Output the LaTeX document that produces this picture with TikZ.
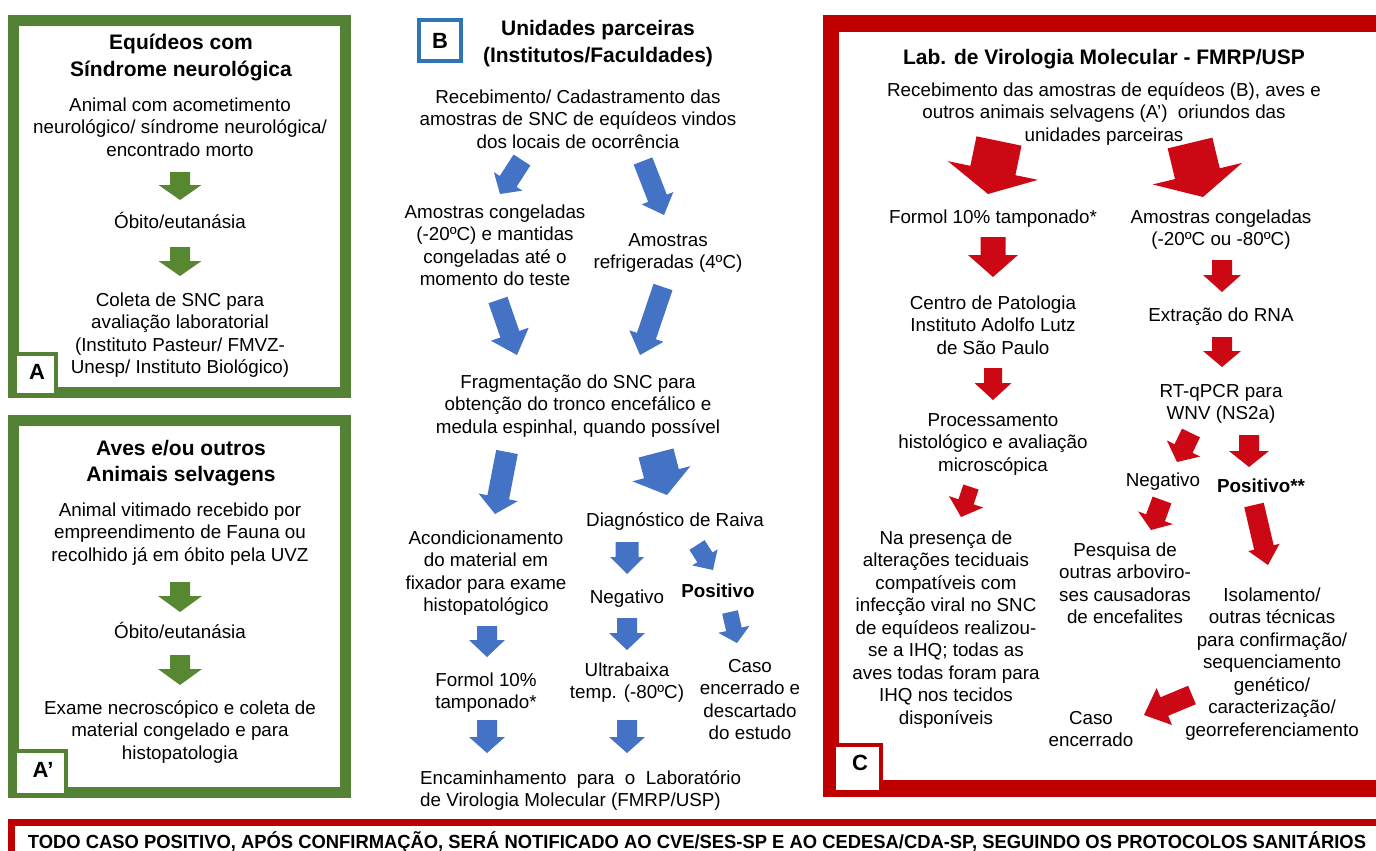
\documentclass[tikz,border=0pt]{standalone}
\usepackage{fontspec}
\setmainfont{Liberation Sans}
\usetikzlibrary{calc}
\definecolor{gfr}{RGB}{84,130,53}
\definecolor{garr}{RGB}{88,135,50}
\definecolor{barr}{RGB}{68,114,196}
\definecolor{bbox}{RGB}{46,117,182}
\definecolor{rfr}{RGB}{192,0,0}
\definecolor{rarr}{RGB}{204,8,20}
\newcommand{\barrow}[6]{%
  \path ($(#3)!#6pt!(#2)$) coordinate (bh);
  \fill[#1] ($(#2)!#4pt!90:(#3)$) -- ($(bh)!#4pt!-90:(#2)$) -- ($(bh)!#5pt!-90:(#2)$) -- (#3)
     -- ($(bh)!#5pt!90:(#2)$) -- ($(bh)!#4pt!90:(#2)$) -- ($(#2)!#4pt!-90:(#3)$) -- cycle;
}
\tikzset{
  txt/.style={font=\fontsize{18.8}{22.5}\selectfont, align=center, inner sep=0pt, anchor=base},
  ttl/.style={font=\fontsize{21}{26.5}\selectfont\bfseries, align=center, inner sep=0pt, anchor=base},
  bld/.style={font=\fontsize{18.8}{22.5}\selectfont\bfseries, align=center, inner sep=0pt, anchor=base},
  lab/.style={font=\fontsize{22}{26}\selectfont\bfseries, inner sep=0pt, anchor=center},
}
\begin{document}
\begin{tikzpicture}[x=1pt,y=-1pt]
\clip (0,0) rectangle (1376,851);
\fill[white] (0,0) rectangle (1376,851);
% ---------- frames ----------
\draw[gfr, line width=11pt] (13.5,20.5) rectangle (345.5,392.5);
\draw[gfr, line width=4pt, fill=white] (15,354) rectangle (56,395);
\node[lab] (labA) at (37,372) {A};
\draw[gfr, line width=11pt] (13.5,420.5) rectangle (345.5,792);
\draw[gfr, line width=4pt, fill=white] (15,751) rectangle (66,795);
\node[lab] (labAp) at (43,770) {A’};
\draw[bbox, line width=4pt] (419,20) rectangle (461,61);
\node[lab] (labB) at (440,41) {B};
\draw[rfr, line width=16.5pt] (831,23.5) rectangle (1385,788.5);
\draw[rfr, line width=4pt, fill=white] (834,745) rectangle (881,792);
\node[lab] (labC) at (860,763) {C};
\draw[rfr, line width=7pt] (11,822) rectangle (1400,900);
% ---------- A ----------
\node[ttl] (tA0) at (181,76.5) {Equídeos com\\Síndrome neurológica};
\node[txt] (tA1) at (180,156) {Animal com acometimento\\neurológico/ síndrome neurológica/\\encontrado morto};
\node[txt] (tA2) at (180,228) {Óbito/eutanásia};
\node[txt] (tA3) at (180,373.5) {Coleta de SNC para\\avaliação laboratorial\\(Instituto Pasteur/ FMVZ-\\Unesp/ Instituto Biológico)};
\coordinate (ga1s) at (180,172); \coordinate (ga1e) at (180,200);
\coordinate (ga2s) at (180,247); \coordinate (ga2e) at (180,276);
\barrow{garr}{ga1s}{ga1e}{10}{21.5}{15}
\barrow{garr}{ga2s}{ga2e}{10}{21.5}{15}
% ---------- A' ----------
\node[ttl] (tB0) at (181,481.5) {Aves e/ou outros\\Animais selvagens};
\node[txt] (tB1) at (180,561) {Animal vitimado recebido por\\empreendimento de Fauna ou\\recolhido já em óbito pela UVZ};
\node[txt] (tB2) at (180,638) {Óbito/eutanásia};
\node[txt] (tB3) at (180,759) {Exame necroscópico e coleta de\\material congelado e para\\histopatologia};
\coordinate (ga3s) at (180,582); \coordinate (ga3e) at (180,612);
\coordinate (ga4s) at (180,655); \coordinate (ga4e) at (180,685);
\barrow{garr}{ga3s}{ga3e}{10}{22}{16}
\barrow{garr}{ga4s}{ga4e}{10}{22}{16}
% ---------- B ----------
\node[ttl] (tC0) at (598,62.5) {Unidades parceiras\\(Institutos/Faculdades)};
\node[txt] (tC1) at (578,148) {Recebimento/ Cadastramento das\\amostras de SNC de equídeos vindos\\dos locais de ocorrência};
\node[txt] (tC2) at (495,285.5) {Amostras congeladas\\(-20ºC) e mantidas\\congeladas até o\\momento do teste};
\node[txt] (tC3) at (668,268.5) {Amostras\\refrigeradas (4ºC)};
\node[txt] (tC4) at (578,433) {Fragmentação do SNC para\\obtenção do tronco encefálico e\\medula espinhal, quando possível};
\node[txt] (tC5) at (675,526) {Diagnóstico de Raiva};
\node[txt] (tC6) at (486,611.5) {Acondicionamento\\do material em\\fixador para exame\\histopatológico};
\node[txt] (tC7) at (627,603) {Negativo};
\node[bld] (tC8) at (718,597) {Positivo};
\node[txt] (tC9) at (486,708.5) {Formol 10\%\\tamponado*};
\node[txt] (tC10) at (627,698.5) {Ultrabaixa\\temp. (-80ºC)};
\node[txt] (tC11) at (750,739.5) {Caso\\encerrado e\\descartado\\do estudo};
\node[txt, anchor=base west, align=left] (tC12) at (420,806.5) {Encaminhamento\ \ para\ \ o\ \ Laboratório\\de Virologia Molecular (FMRP/USP)};
\coordinate (b1s) at (522,160); \coordinate (b1e) at (500,194);
\coordinate (b2s) at (643,161); \coordinate (b2e) at (664,215);
\coordinate (b3s) at (498,300); \coordinate (b3e) at (517,355);
\coordinate (b4s) at (663,287); \coordinate (b4e) at (640,355);
\coordinate (b5s) at (507,452); \coordinate (b5e) at (495,514);
\coordinate (b6s) at (656,453); \coordinate (b6e) at (667,495);
\coordinate (b7s) at (627,542); \coordinate (b7e) at (627,574);
\coordinate (b8s) at (697,545); \coordinate (b8e) at (713,570);
\coordinate (b9s) at (487,626); \coordinate (b9e) at (487,657);
\coordinate (b10s) at (627,618); \coordinate (b10e) at (627,650);
\coordinate (b11s) at (730,612); \coordinate (b11e) at (737,643);
\coordinate (b12s) at (487,720); \coordinate (b12e) at (487,753);
\coordinate (b13s) at (627,720); \coordinate (b13e) at (627,753);
\barrow{barr}{b1s}{b1e}{10}{17}{15}
\barrow{barr}{b2s}{b2e}{10}{17}{18}
\barrow{barr}{b3s}{b3e}{10}{20}{22}
\barrow{barr}{b4s}{b4e}{10}{18}{20}
\barrow{barr}{b5s}{b5e}{11}{20}{17}
\barrow{barr}{b6s}{b6e}{18}{30}{22}
\barrow{barr}{b7s}{b7e}{11.5}{17}{17}
\barrow{barr}{b8s}{b8e}{9}{15}{15}
\barrow{barr}{b9s}{b9e}{10}{18}{17}
\barrow{barr}{b10s}{b10e}{10}{18}{17}
\barrow{barr}{b11s}{b11e}{8}{16}{14}
\barrow{barr}{b12s}{b12e}{10}{18}{16}
\barrow{barr}{b13s}{b13e}{10}{18}{16}
% ---------- C ----------
\node[ttl] (tD0) at (1104,64) {Lab. de Virologia Molecular - FMRP/USP};
\node[txt] (tD1) at (1104,141) {Recebimento das amostras de equídeos (B), aves e\\outros animais selvagens (A’)\ \ oriundos das\\unidades parceiras};
\node[txt] (tD2) at (993,223) {Formol 10\% tamponado*};
\node[txt] (tD3) at (1221,245.5) {Amostras congeladas\\(-20ºC ou -80ºC)};
\node[txt] (tD4) at (993,354) {Centro de Patologia\\Instituto Adolfo Lutz\\de São Paulo};
\node[txt] (tD5) at (1221,321) {Extração do RNA};
\node[txt] (tD6) at (1221,419.5) {RT-qPCR para\\WNV (NS2a)};
\node[txt] (tD7) at (993,471) {Processamento\\histológico e avaliação\\microscópica};
\node[txt] (tD8) at (1163,486) {Negativo};
\node[bld] (tD9) at (1261,492) {Positivo**};
\node[txt] (tD10) at (946,724) {Na presença de\\alterações teciduais\\compatíveis com\\infecção viral no SNC\\de equídeos realizou-\\se a IHQ; todas as\\aves todas foram para\\IHQ nos tecidos\\disponíveis};
\node[txt] (tD11) at (1125,623.5) {Pesquisa de\\outras arboviro-\\ses causadoras\\de encefalites};
\node[txt] (tD12) at (1272,736) {Isolamento/\\outras técnicas\\para confirmação/\\sequenciamento\\genético/\\caracterização/\\georreferenciamento};
\node[txt] (tD13) at (1091,746.5) {Caso\\encerrado};
\coordinate (c1s) at (999,141); \coordinate (c1e) at (988,194);
\coordinate (c2s) at (1190,143); \coordinate (c2e) at (1203,197);
\coordinate (c3s) at (993,237); \coordinate (c3e) at (993,277);
\coordinate (c4s) at (1222,260); \coordinate (c4e) at (1222,292);
\coordinate (c5s) at (1222,337); \coordinate (c5e) at (1222,367);
\coordinate (c6s) at (993,368); \coordinate (c6e) at (993,400);
\coordinate (c7s) at (1191,433); \coordinate (c7e) at (1177,462);
\coordinate (c8s) at (1249,435); \coordinate (c8e) at (1249,467);
\coordinate (c9s) at (971,487); \coordinate (c9e) at (961,517);
\coordinate (c10s) at (1162,500); \coordinate (c10e) at (1151,530);
\coordinate (c11s) at (1254,505); \coordinate (c11e) at (1268,565);
\coordinate (c12s) at (1192,695); \coordinate (c12e) at (1144,715);
\barrow{rarr}{c1s}{c1e}{23}{46}{24}
\barrow{rarr}{c2s}{c2e}{23}{46}{24}
\barrow{rarr}{c3s}{c3e}{12.5}{25}{22}
\barrow{rarr}{c4s}{c4e}{10}{19}{17}
\barrow{rarr}{c5s}{c5e}{10}{19}{16}
\barrow{rarr}{c6s}{c6e}{9}{18.5}{17}
\barrow{rarr}{c7s}{c7e}{10}{18.5}{15}
\barrow{rarr}{c8s}{c8e}{10}{20}{16}
\barrow{rarr}{c9s}{c9e}{8}{18}{16}
\barrow{rarr}{c10s}{c10e}{10}{18.5}{13}
\barrow{rarr}{c11s}{c11e}{10}{16}{18}
\barrow{rarr}{c12s}{c12e}{10}{20}{22}
% ---------- banner ----------
\node[inner sep=0pt, anchor=base] (ban) at (697,848) {\resizebox{1338pt}{\height}{\fontsize{19}{22}\selectfont\bfseries TODO CASO POSITIVO, APÓS CONFIRMAÇÃO, SERÁ NOTIFICADO AO CVE/SES-SP E AO CEDESA/CDA-SP, SEGUINDO OS PROTOCOLOS SANITÁRIOS}};
\end{tikzpicture}
\end{document}
